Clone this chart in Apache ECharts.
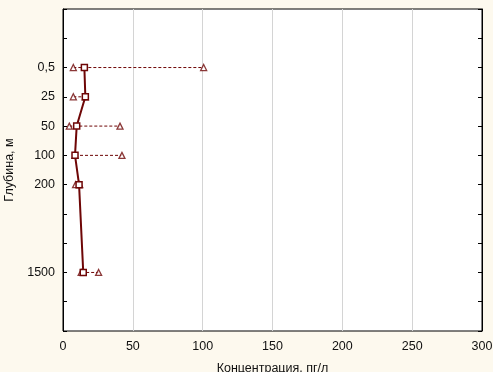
<!DOCTYPE html>
<html><head><meta charset="utf-8">
<script src="https://cdn.jsdelivr.net/npm/echarts@6/dist/echarts.min.js"></script>
<style>html,body{margin:0;padding:0;background:#fdf9ee}#c{width:493px;height:372px}</style>
</head><body><div id="c"></div>
<script>
const depthLabels = ['0,5', '25', '50', '100', '200', '1500'];
const depthPos = [2, 3, 4, 5, 6, 9];
const meanVals = [15.3, 16, 9.8, 8.6, 11.5, 14.5];
const minVals = [7.4, 7.4, 4.5, 8.6, 9, 13];
const maxVals = [100.7, 16, 40.8, 42.2, 12, 25.5];

const RED = '#6e0606';
const chart = echarts.init(document.getElementById('c'));
const font = 'Arial, "Liberation Sans", sans-serif';
const yLab = v => { const i = depthPos.indexOf(v); return i >= 0 ? depthLabels[i] : ''; };

chart.setOption({
  backgroundColor: '#fdf9ee',
  animation: false,
  grid: { left: 63, right: 11, top: 9, bottom: 41, show: true, backgroundColor: '#ffffff', borderColor: '#000', borderWidth: 1, outerBoundsMode: 'none', containLabel: false },
  xAxis: {
    type: 'value', min: 0, max: 300, interval: 50,
    axisLine: { show: false }, axisTick: { show: false },
    splitLine: { show: true, lineStyle: { color: '#d4d4d4', width: 1 } },
    axisLabel: { color: '#111', fontFamily: font, fontSize: 12.5, margin: 9 },
    name: 'Концентрация, пг/л', nameLocation: 'middle', nameGap: 31,
    nameTextStyle: { color: '#111', fontFamily: font, fontSize: 12.5 }
  },
  yAxis: [{
    type: 'value', inverse: true, min: 0, max: 11, interval: 1,
    axisLine: { show: true, lineStyle: { color: '#000' } },
    axisTick: { show: true, inside: true, length: 4, lineStyle: { color: '#000' } },
    splitLine: { show: false },
    axisLabel: { color: '#111', fontFamily: font, fontSize: 12.5, margin: 8, formatter: yLab, showMinLabel: true, showMaxLabel: true },
    name: 'Глубина, м', nameLocation: 'middle', nameGap: 44,
    nameTextStyle: { color: '#111', fontFamily: font, fontSize: 12.5 }
  }, {
    type: 'value', inverse: true, min: 0, max: 11, interval: 1, position: 'right',
    axisLine: { show: true, lineStyle: { color: '#000' } },
    axisTick: { show: true, inside: true, length: 4, lineStyle: { color: '#000' } },
    splitLine: { show: false }, axisLabel: { show: false }
  }],
  series: [{
    type: 'custom',
    data: depthPos.map((p, i) => [minVals[i], maxVals[i], p]),
    encode: { x: [0, 1], y: 2 },
    renderItem: (params, api) => {
      const a = api.coord([api.value(0), api.value(2)]);
      const b = api.coord([api.value(1), api.value(2)]);
      return { type: 'line', shape: { x1: a[0], y1: a[1], x2: b[0], y2: b[1] },
        style: { stroke: RED, lineWidth: 1, lineDash: [3, 2] } };
    },
    z: 1
  }, {
    type: 'scatter', data: depthPos.map((p, i) => [minVals[i], p]),
    symbol: 'triangle', symbolSize: 6,
    itemStyle: { color: '#fff', borderColor: RED, borderWidth: 1.3 }, z: 3
  }, {
    type: 'scatter', data: depthPos.map((p, i) => [maxVals[i], p]),
    symbol: 'triangle', symbolSize: 6,
    itemStyle: { color: '#fff', borderColor: RED, borderWidth: 1.3 }, z: 3
  }, {
    type: 'line', data: depthPos.map((p, i) => [meanVals[i], p]),
    symbol: 'rect', symbolSize: 6, showAllSymbol: true,
    lineStyle: { color: RED, width: 2 },
    itemStyle: { color: '#fff', borderColor: RED, borderWidth: 1.5 }, z: 4
  }]
});
</script>
</body></html>
